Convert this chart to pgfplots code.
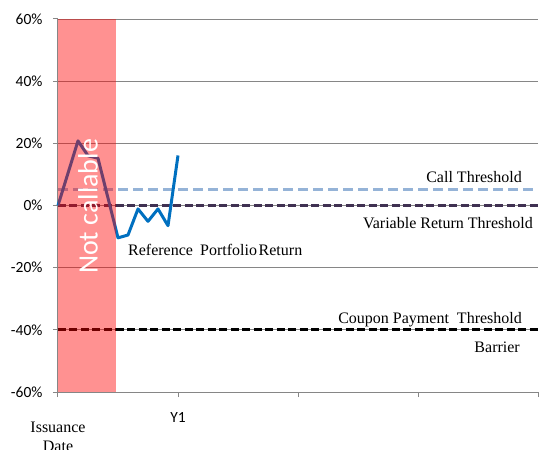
\documentclass[border=0pt]{standalone}
\usepackage{pgfplots}
\pgfplotsset{compat=1.18}
\usepackage{fontspec}
\setmainfont{Liberation Serif}
\newfontfamily\carlito{Carlito}
\usetikzlibrary{calc}

\definecolor{mainblue}{RGB}{0,112,192}
\definecolor{callblue}{RGB}{149,179,215}
\definecolor{varpurple}{RGB}{64,49,82}
\definecolor{gridgray}{RGB}{134,134,134}

\begin{document}
\begin{tikzpicture}
\begin{axis}[
    scale only axis,
    width=480pt, height=373pt,
    xmin=0, xmax=4, ymin=-60, ymax=60,
    clip=false,
    axis x line*=bottom, axis y line*=left,
    axis line style={-, draw=gridgray, line width=1pt},
    ytick={-60,-40,...,60},
    xtick={0,1,2,3,4},
    xticklabels={,Y1,,,},
    ymajorgrids,
    grid style={draw=gridgray, line width=0.8pt},
    tick style={draw=gridgray, line width=1pt},
    tick align=outside,
    major tick length=5pt,
    /pgf/number format/assume math mode=true,
    tick label style={font=\carlito\fontsize{15.5}{18}\selectfont},
    yticklabel={\pgfmathprintnumber{\tick}\%},
    yticklabel style={xshift=-7pt},
    xticklabel style={yshift=-12pt},
]
% thresholds
\addplot[callblue, line width=3pt, dash pattern=on 10pt off 5pt] coordinates {(0,5) (4,5)};
\addplot[varpurple, line width=3pt, dash pattern=on 8pt off 3.5pt] coordinates {(0,0) (4,0)};
\addplot[black, line width=3pt, dash pattern=on 8pt off 3.5pt] coordinates {(0,-40) (4,-40)};

% reference portfolio return
\addplot[mainblue, line width=3pt, line join=round] coordinates {
    (0,0) (0.1667,20.8) (0.25,16.0) (0.3333,15.2)
    (0.5,-10.4) (0.5833,-9.5) (0.6667,-1.1) (0.75,-5.1)
    (0.8333,-1.1) (0.9167,-6.5) (1,16.1)
};

% not callable period
\addplot[draw=none, fill=red, fill opacity=0.43] coordinates {
    (0,-60) (0.483,-60) (0.483,60) (0,60)
} -- cycle;

\node[rotate=90, text=white, font=\carlito\fontsize{28}{30}\selectfont]
    at (axis cs:0.25,-0.3) {Not callable};

\node[anchor=base east, inner sep=0pt, font=\fontsize{16}{19}\selectfont]
    at (axis cs:3.867,7.4) {Call Threshold};
\node[anchor=base east, inner sep=0pt, font=\fontsize{16}{19}\selectfont]
    at (axis cs:3.958,-7.4) {Variable Return Threshold};
\node[anchor=base west, inner sep=0pt, font=\fontsize{16}{19}\selectfont]
    at (axis cs:0.583,-16.1) {Reference\hspace{0.45em}Portfolio\hspace{0.1em}Return};
\node[anchor=base east, inner sep=0pt, font=\fontsize{16}{19}\selectfont]
    at (axis cs:3.867,-38.1) {Coupon Payment\ \ Threshold};
\node[anchor=base east, inner sep=0pt, font=\fontsize{16}{19}\selectfont]
    at (axis cs:3.85,-47.4) {Barrier};
\node[anchor=north, align=center, inner sep=0pt, font=\fontsize{16}{19}\selectfont]
    at (axis cs:0,-60) [yshift=-30pt] {Issuance\\Date};
\end{axis}
\pgfresetboundingbox
\path[use as bounding box] ($(current axis.south west)+(-58pt,-57pt)$) rectangle ($(current axis.north east)+(2pt,19pt)$);
\end{tikzpicture}
\end{document}
